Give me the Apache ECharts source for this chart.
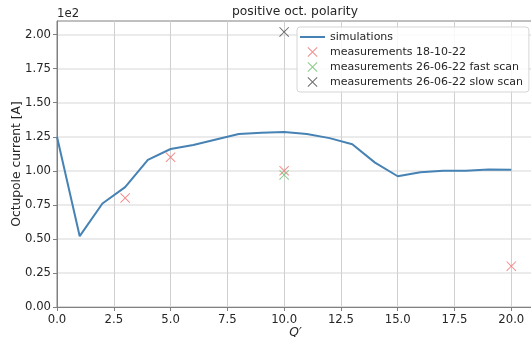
<!DOCTYPE html>
<html>
<head>
<meta charset="utf-8">
<script src="https://cdn.jsdelivr.net/npm/echarts@6/dist/echarts.min.js"></script>
<style>
  html, body { margin: 0; padding: 0; background: #fff; }
  #chart { width: 531px; height: 337px; }
</style>
</head>
<body>
<div id="chart"></div>
<script>
// simulation curve (Q' vs current in A)
const simX = [0, 1, 2, 3, 4, 5, 6, 7, 8, 9, 10, 11, 12, 13, 14, 15, 16, 17, 18, 19, 20];
const simY = [125, 52, 76, 88, 108, 116, 119, 123, 127, 128, 128.5, 127, 124, 119.5, 106, 96, 99, 100, 100, 101, 100.7];

// measurements
const meas181022X = [3, 5, 10, 20];
const meas181022Y = [80, 110, 100, 30];
const fastScanX = [10];
const fastScanY = [97];
const slowScanX = [10];
const slowScanY = [202];

const xTicks = [0, 2.5, 5, 7.5, 10, 12.5, 15, 17.5, 20];
const yTicks = [0, 25, 50, 75, 100, 125, 150, 175, 200];

const FONT = 'DejaVu Sans';
const TXT = '#262626';
// filled "x" marker so it renders like a thin cross
const CROSS = 'path://M0,7L7,0L50,43L93,0L100,7L57,50L100,93L93,100L50,57L7,100L0,93L43,50Z';
const LINE_ICON = 'path://M0,0L100,0L100,8L0,8Z';

const chart = echarts.init(document.getElementById('chart'));

const zip = (xs, ys) => xs.map((x, i) => [x, ys[i]]);

chart.setOption({
  animation: false,
  backgroundColor: '#fff',
  grid: {
    left: 57, right: -3, top: 21, bottom: 30,
    outerBoundsMode: 'none', containLabel: false,
    show: true, borderColor: '#808080', borderWidth: 1
  },
  graphic: [
    { type: 'text', left: 57, top: 8, style: { text: '1e2', font: '11.7px "DejaVu Sans"', fill: TXT } },
    { type: 'text', x: 295, y: 6, style: { text: 'positive oct. polarity', font: '12.3px "DejaVu Sans"', fill: TXT, textAlign: 'center' } }
  ],
  legend: {
    orient: 'vertical',
    left: 297, top: 27,
    padding: [3, 6, 3, 3],
    itemWidth: 25, itemHeight: 10, itemGap: 1,
    backgroundColor: 'rgba(255,255,255,0.85)',
    borderColor: '#d5d5d5', borderWidth: 1, borderRadius: 3,
    textStyle: { fontFamily: FONT, fontSize: 11, color: TXT, lineHeight: 14 },
    data: [
      { name: 'simulations', icon: LINE_ICON },
      { name: 'measurements 18-10-22', icon: CROSS },
      { name: 'measurements 26-06-22 fast scan', icon: CROSS },
      { name: 'measurements 26-06-22 slow scan', icon: CROSS }
    ]
  },
  xAxis: {
    type: 'value', min: 0, max: 21, interval: 2.5,
    name: 'Q\u2032', nameLocation: 'middle', nameGap: 20, nameMoveOverlap: false,
    nameTextStyle: { fontFamily: FONT, fontSize: 12.3, fontStyle: 'italic', color: TXT },
    axisLine: { show: true, lineStyle: { color: '#808080', width: 1 } },
    axisTick: { show: true, length: 4, customValues: xTicks, lineStyle: { color: '#808080' } },
    axisLabel: {
      customValues: xTicks, margin: 7,
      fontFamily: FONT, fontSize: 11.7, color: TXT,
      formatter: v => v.toFixed(1)
    },
    splitLine: { show: true, lineStyle: { color: '#d0d0d0', width: 1 } }
  },
  yAxis: {
    type: 'value', min: 0, max: 210, interval: 25,
    name: 'Octupole current [A]', nameLocation: 'middle', nameGap: 34, nameRotate: 90,
    nameMoveOverlap: false,
    nameTextStyle: { fontFamily: FONT, fontSize: 12.3, color: TXT },
    axisLine: { show: true, lineStyle: { color: '#808080', width: 1 } },
    axisTick: { show: true, length: 4, customValues: yTicks, lineStyle: { color: '#808080' } },
    axisLabel: {
      customValues: yTicks, margin: 6,
      fontFamily: FONT, fontSize: 11.7, color: TXT,
      formatter: v => (v / 100).toFixed(2)
    },
    splitLine: { show: true, lineStyle: { color: '#e4e4e4', width: 1.6 } }
  },
  series: [
    {
      name: 'simulations', type: 'line',
      data: zip(simX, simY),
      symbol: 'none',
      lineStyle: { color: '#4682b4', width: 2 },
      itemStyle: { color: '#4682b4' },
      z: 3
    },
    {
      name: 'measurements 18-10-22', type: 'scatter',
      data: zip(meas181022X, meas181022Y),
      symbol: CROSS, symbolSize: 10,
      itemStyle: { color: '#f07070' },
      z: 4
    },
    {
      name: 'measurements 26-06-22 fast scan', type: 'scatter',
      data: zip(fastScanX, fastScanY),
      symbol: CROSS, symbolSize: 10,
      itemStyle: { color: '#6cbf6c' },
      z: 4
    },
    {
      name: 'measurements 26-06-22 slow scan', type: 'scatter',
      data: zip(slowScanX, slowScanY),
      symbol: CROSS, symbolSize: 10,
      itemStyle: { color: '#4a4a4a' },
      z: 4
    }
  ]
});
</script>
</body>
</html>
